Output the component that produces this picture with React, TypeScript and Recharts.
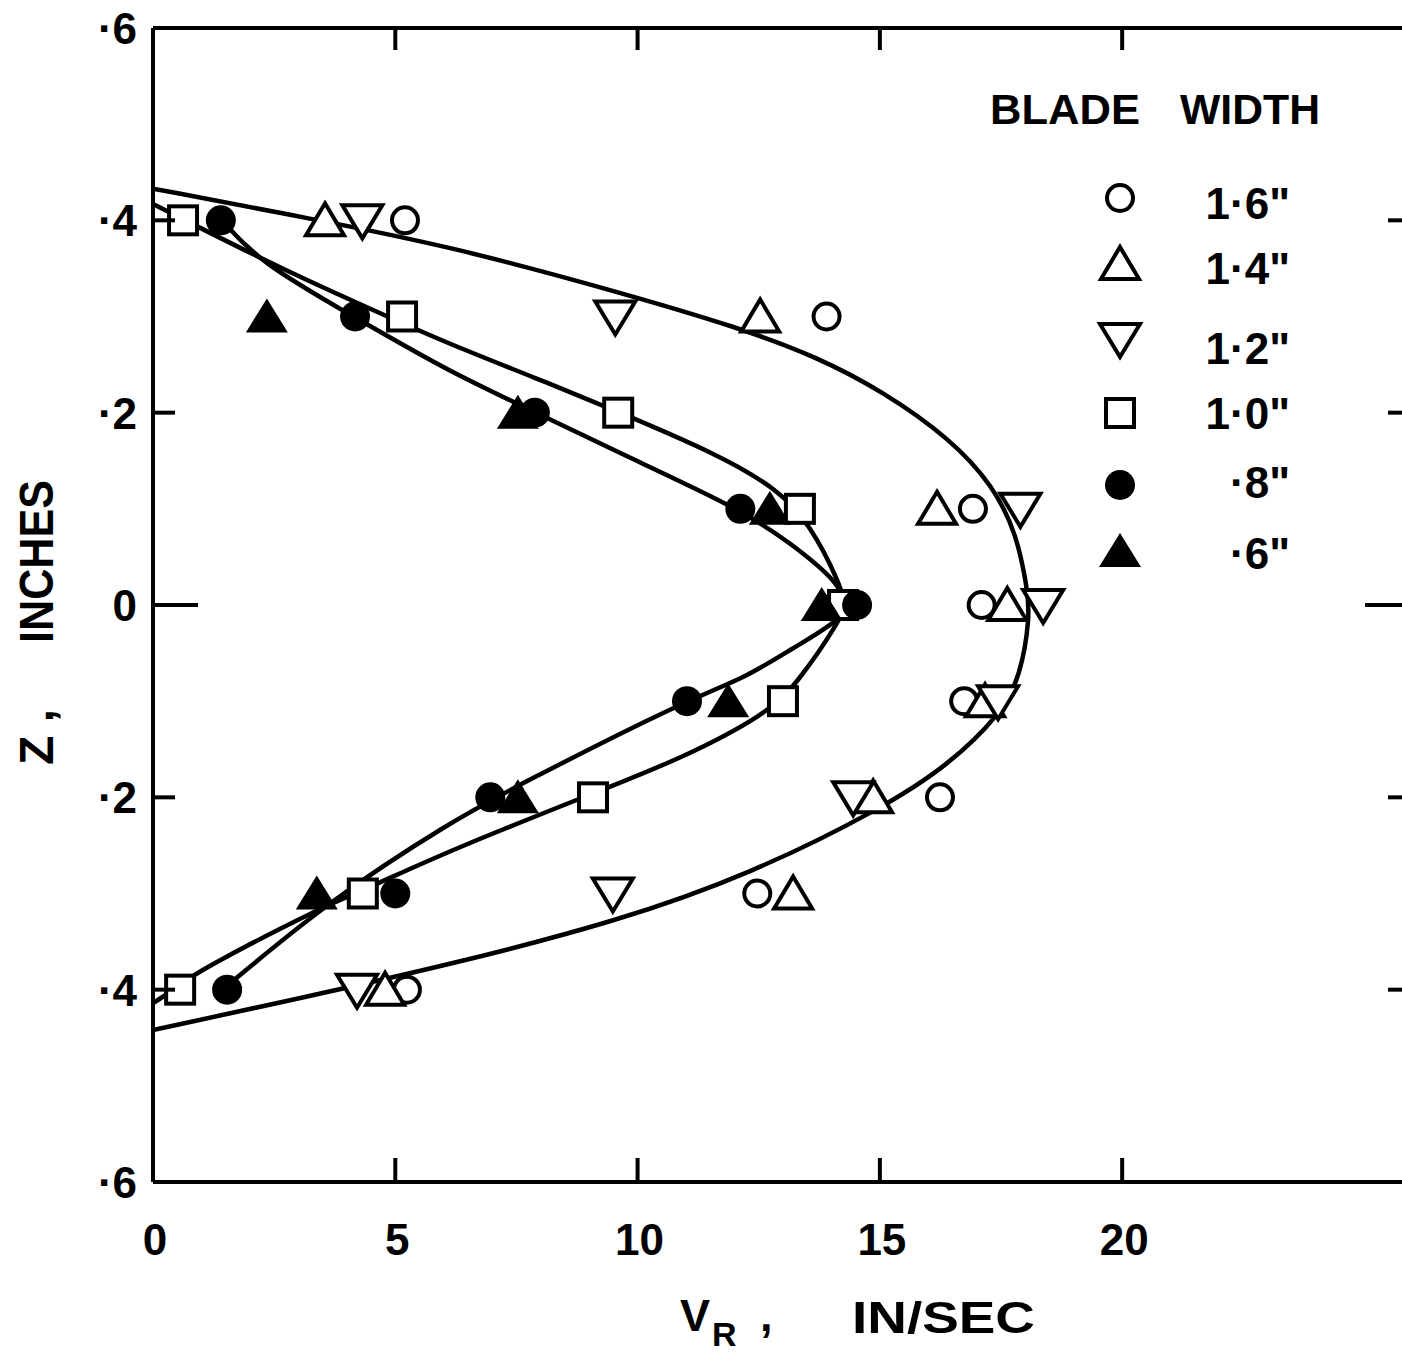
import React from 'react';
import { ScatterChart, Scatter, XAxis, YAxis } from 'recharts';

const FONT = '"Liberation Sans", Arial, sans-serif';

// measured points: V_R (in/sec) against Z (inches), one list per blade width
const width16 = [
  { x: 5.2, z: 0.4 }, { x: 13.9, z: 0.3 }, { x: 16.92, z: 0.1 }, { x: 17.1, z: 0 },
  { x: 16.74, z: -0.1 }, { x: 16.24, z: -0.2 }, { x: 12.47, z: -0.3 }, { x: 5.24, z: -0.4 },
];
const width14 = [
  { x: 3.55, z: 0.4 }, { x: 12.53, z: 0.3 }, { x: 16.18, z: 0.1 }, { x: 17.63, z: 0 },
  { x: 17.17, z: -0.1 }, { x: 14.86, z: -0.2 }, { x: 13.21, z: -0.3 }, { x: 4.79, z: -0.4 },
];
const width12 = [
  { x: 4.32, z: 0.4 }, { x: 9.54, z: 0.3 }, { x: 17.9, z: 0.1 }, { x: 18.37, z: 0 },
  { x: 17.44, z: -0.1 }, { x: 14.45, z: -0.2 }, { x: 9.49, z: -0.3 }, { x: 4.21, z: -0.4 },
];
const width10 = [
  { x: 0.62, z: 0.4 }, { x: 5.14, z: 0.3 }, { x: 9.6, z: 0.2 }, { x: 13.35, z: 0.1 },
  { x: 14.24, z: 0 }, { x: 13.0, z: -0.1 }, { x: 9.08, z: -0.2 }, { x: 4.33, z: -0.3 },
  { x: 0.56, z: -0.4 },
];
const width08 = [
  { x: 1.4, z: 0.4 }, { x: 4.17, z: 0.3 }, { x: 7.88, z: 0.2 }, { x: 12.12, z: 0.1 },
  { x: 14.53, z: 0 }, { x: 11.02, z: -0.1 }, { x: 6.96, z: -0.2 }, { x: 5.0, z: -0.3 },
  { x: 1.53, z: -0.4 },
];
const width06 = [
  { x: 2.35, z: 0.3 }, { x: 7.53, z: 0.2 }, { x: 12.73, z: 0.1 }, { x: 13.8, z: 0 },
  { x: 11.87, z: -0.1 }, { x: 7.53, z: -0.2 }, { x: 3.38, z: -0.3 },
];

// hand-faired curves (top to bottom)
const outerFit = [
  { x: 0, z: 0.433 }, { x: 3.24, z: 0.402 }, { x: 6.13, z: 0.373 }, { x: 9.58, z: 0.326 },
  { x: 12.12, z: 0.288 }, { x: 13.7, z: 0.258 }, { x: 15.07, z: 0.222 }, { x: 16.45, z: 0.173 },
  { x: 17.34, z: 0.124 }, { x: 17.83, z: 0.073 }, { x: 18.04, z: 0.017 }, { x: 18.1, z: -0.011 },
  { x: 17.9, z: -0.075 }, { x: 17.48, z: -0.114 }, { x: 16.45, z: -0.165 }, { x: 15.07, z: -0.211 },
  { x: 12.32, z: -0.28 }, { x: 9.58, z: -0.329 }, { x: 6.13, z: -0.374 }, { x: 3.03, z: -0.409 },
  { x: 0, z: -0.442 },
];
const fit10Top = [
  { x: 0, z: 0.417 }, { x: 0.62, z: 0.401 }, { x: 2.8, z: 0.346 }, { x: 4.75, z: 0.302 },
  { x: 6.13, z: 0.271 }, { x: 7.9, z: 0.236 }, { x: 9.6, z: 0.201 }, { x: 11.64, z: 0.157 },
  { x: 12.88, z: 0.121 }, { x: 13.56, z: 0.084 }, { x: 14.18, z: 0.022 }, { x: 14.28, z: 0 },
];
const fit10Bottom = [
  { x: 14.28, z: 0 }, { x: 14.18, z: -0.016 }, { x: 13.29, z: -0.082 }, { x: 12.67, z: -0.113 },
  { x: 10.94, z: -0.159 }, { x: 9.08, z: -0.196 }, { x: 6.13, z: -0.255 }, { x: 4.33, z: -0.297 },
  { x: 3.65, z: -0.31 }, { x: 0.83, z: -0.383 }, { x: 0.56, z: -0.396 }, { x: 0, z: -0.414 },
];
const fit08Top = [
  { x: 1.4, z: 0.401 }, { x: 2.21, z: 0.356 }, { x: 4.07, z: 0.302 },
  { x: 6.13, z: 0.242 }, { x: 7.88, z: 0.201 }, { x: 9.58, z: 0.159 },
  { x: 12.12, z: 0.1 }, { x: 13.2, z: 0.063 }, { x: 14.18, z: 0.022 }, { x: 14.28, z: 0 },
];
const fit08Bottom = [
  { x: 14.28, z: 0 }, { x: 14.18, z: -0.016 }, { x: 13.2, z: -0.045 }, { x: 12.18, z: -0.077 },
  { x: 11.0, z: -0.099 }, { x: 7.51, z: -0.188 }, { x: 6.13, z: -0.226 },
  { x: 3.65, z: -0.307 }, { x: 1.53, z: -0.396 },
];

const xTicks = [0, 5, 10, 15, 20];
const xInnerTicks = [5, 10, 15, 20];
const zTicks = [-0.6, -0.4, -0.2, 0, 0.2, 0.4, 0.6];
const zInnerTicks = [-0.4, -0.2, 0, 0.2, 0.4];
const legendItems = ['1·6"', '1·4"', '1·2"', '1·0"', '·8"', '·6"'];

const XMAX = 25.94;

const fmtZ = (v: number) => (v === 0 ? '0' : '·' + Math.round(Math.abs(v) * 10));

const tickText = { fontFamily: FONT, fontSize: 44, fontWeight: 700, fill: '#000' };

const LeftTick = ({ x, y, payload }: any) => {
  const v = payload.value;
  const len = v === 0 ? 45 : Math.abs(v) > 0.5 ? 0 : 22;
  return (
    <g>
      {len > 0 && <line x1={x} y1={y} x2={x + len} y2={y} stroke="#000" strokeWidth={4} />}
      <text x={x - 16} y={y} dy="0.36em" textAnchor="end" {...tickText}>{fmtZ(v)}</text>
    </g>
  );
};

const RightTick = ({ x, y, payload }: any) => {
  const len = payload.value === 0 ? 45 : 22;
  return <line x1={x} y1={y} x2={x - len} y2={y} stroke="#000" strokeWidth={4} />;
};

const BottomTick = ({ x, y, payload }: any) => (
  <g>
    {payload.value > 0 && <line x1={x} y1={y} x2={x} y2={y - 24} stroke="#000" strokeWidth={4} />}
    <text x={x + 2} y={y + 73} textAnchor="middle" {...tickText}>{payload.value}</text>
  </g>
);

const TopTick = ({ x, y }: any) => (
  <line x1={x} y1={y} x2={x} y2={y + 22} stroke="#000" strokeWidth={4} />
);

const SW = 4;
const OpenCircle = ({ cx, cy }: any) => (
  <circle cx={cx} cy={cy} r={13} fill="#fff" stroke="#000" strokeWidth={SW} />
);
const OpenTriUp = ({ cx, cy }: any) => (
  <polygon points={`${cx},${cy - 17} ${cx + 19},${cy + 15} ${cx - 19},${cy + 15}`} fill="#fff" stroke="#000" strokeWidth={SW} />
);
const OpenTriDown = ({ cx, cy }: any) => (
  <polygon points={`${cx - 20},${cy - 15} ${cx + 20},${cy - 15} ${cx},${cy + 18}`} fill="#fff" stroke="#000" strokeWidth={SW} />
);
const OpenSquare = ({ cx, cy }: any) => (
  <rect x={cx - 14} y={cy - 14} width={28} height={28} fill="#fff" stroke="#000" strokeWidth={SW} />
);
const FilledCircle = ({ cx, cy }: any) => <circle cx={cx} cy={cy} r={15} fill="#000" />;
const FilledTri = ({ cx, cy }: any) => (
  <polygon points={`${cx},${cy - 18} ${cx + 21},${cy + 16} ${cx - 21},${cy + 16}`} fill="#000" />
);
const noDot = () => <g />;

const legendShapes = [OpenCircle, OpenTriUp, OpenTriDown, OpenSquare, FilledCircle, FilledTri];
const legendSymbolY = [198, 264, 339, 413, 485, 551];
const legendTextY = [219, 284, 364, 429, 498, 569];

const curveLine = { stroke: '#000', strokeWidth: 4.5, fill: 'none' };

export default function App() {
  const curves = [outerFit, fit10Top, fit10Bottom, fit08Top, fit08Bottom];
  return (
    <div style={{ position: 'absolute', left: 0, top: 0, width: 1402, height: 1357, overflow: 'hidden', background: '#fff' }}>
      <ScatterChart width={1420} height={1357} margin={{ top: 0, right: 0, bottom: 0, left: 0 }}>
        <XAxis
          type="number" dataKey="x" domain={[0, XMAX]} ticks={xTicks} interval={0}
          height={175} tickSize={0} tickMargin={0} tick={<BottomTick />} tickLine={false}
          axisLine={{ stroke: '#000', strokeWidth: 4 }} allowDataOverflow
        />
        <XAxis
          xAxisId="top" orientation="top" type="number" dataKey="x" domain={[0, XMAX]}
          ticks={xInnerTicks} interval={0} height={28} tickSize={0} tickMargin={0}
          tick={<TopTick />} tickLine={false} axisLine={{ stroke: '#000', strokeWidth: 4 }} allowDataOverflow
        />
        <YAxis
          type="number" dataKey="z" domain={[-0.6, 0.6]} ticks={zTicks} interval={0}
          width={153} tickSize={0} tickMargin={0} tick={<LeftTick />} tickLine={false}
          axisLine={{ stroke: '#000', strokeWidth: 4 }} allowDataOverflow
        />
        <YAxis
          yAxisId="right" orientation="right" type="number" dataKey="z" domain={[-0.6, 0.6]}
          ticks={zInnerTicks} interval={0} width={10} tickSize={0} tickMargin={0}
          tick={<RightTick />} tickLine={false} axisLine={{ stroke: '#000', strokeWidth: 4 }} allowDataOverflow
        />
        {curves.map((c, i) => (
          <Scatter
            key={'c' + i} data={c} fill="#000" stroke="#000" strokeWidth={4.5}
            line={curveLine} lineJointType="basis" shape={noDot} isAnimationActive={false}
          />
        ))}
        <Scatter data={width16} shape={OpenCircle} isAnimationActive={false} />
        <Scatter data={width14} shape={OpenTriUp} isAnimationActive={false} />
        <Scatter data={width12} shape={OpenTriDown} isAnimationActive={false} />
        <Scatter data={width10} shape={OpenSquare} isAnimationActive={false} />
        <Scatter data={width08} shape={FilledCircle} isAnimationActive={false} />
        <Scatter data={width06} shape={FilledTri} isAnimationActive={false} />
      </ScatterChart>

      <svg width={1402} height={1357} style={{ position: 'absolute', left: 0, top: 0, pointerEvents: 'none' }}>
        <g fontFamily={FONT} fontWeight={700} fill="#000">
          <text x={990} y={124} fontSize={43} textLength={150} lengthAdjust="spacingAndGlyphs">BLADE</text>
          <text x={1180} y={124} fontSize={43} textLength={140} lengthAdjust="spacingAndGlyphs">WIDTH</text>
          {legendItems.map((label, i) => {
            const Shape = legendShapes[i];
            return (
              <g key={label}>
                <Shape cx={1120} cy={legendSymbolY[i]} />
                <text x={1290} y={legendTextY[i]} fontSize={44} textAnchor="end">{label}</text>
              </g>
            );
          })}
          <text transform="translate(53,765) rotate(-90)" fontSize={48} xmlSpace="preserve">Z ,</text>
          <text transform="translate(53,643) rotate(-90)" fontSize={48} textLength={163} lengthAdjust="spacingAndGlyphs">INCHES</text>
          <text x={680} y={1331} fontSize={45}>V</text>
          <text x={712} y={1346} fontSize={34}>R</text>
          <text x={760} y={1331} fontSize={45}>,</text>
          <text x={852} y={1333} fontSize={45} textLength={183} lengthAdjust="spacingAndGlyphs">IN/SEC</text>
        </g>
      </svg>
    </div>
  );
}
